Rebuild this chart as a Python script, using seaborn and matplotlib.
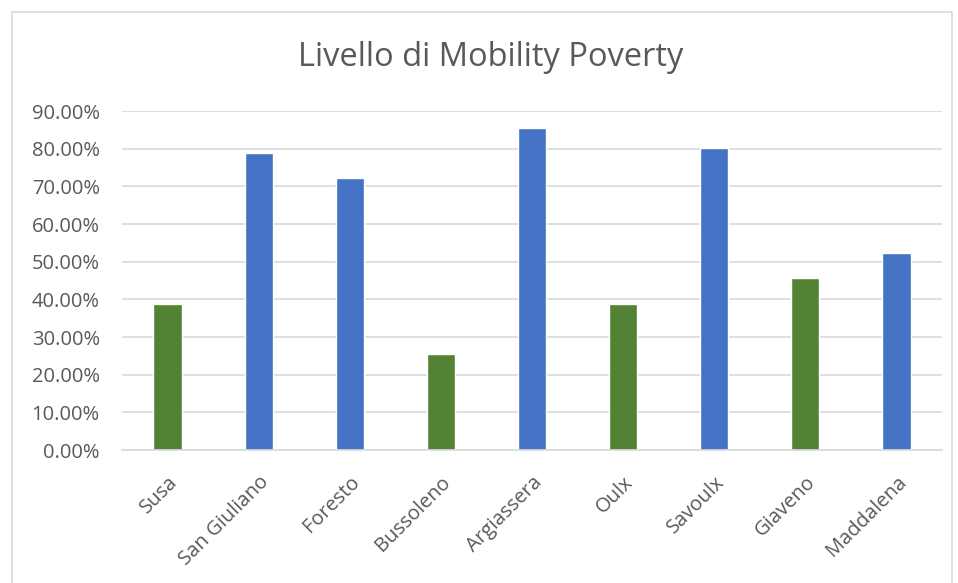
import pandas as pd
import matplotlib.pyplot as plt
import seaborn as sns
from matplotlib.patches import Rectangle
from matplotlib.ticker import PercentFormatter

# values
comuni = ["Susa", "San Giuliano", "Foresto", "Bussoleno", "Argiassera",
          "Oulx", "Savoulx", "Giaveno", "Maddalena"]
poverty = [0.388, 0.788, 0.722, 0.255, 0.855, 0.388, 0.801, 0.456, 0.524]
gruppo = ["verde", "blu", "blu", "verde", "blu", "verde", "blu", "verde", "blu"]

colori = {"verde": "#548235", "blu": "#4472C4"}
grigio = "#595959"

sns.set_style("white")
plt.rcParams['font.family'] = ['Open Sans', 'DejaVu Sans']

df = pd.DataFrame({"Comune": comuni, "Mobility Poverty": poverty, "Gruppo": gruppo})

fig = plt.figure(figsize=(9.58, 5.83), dpi=100)
ax = fig.add_axes([0.1273, 0.2281, 0.8560, 0.5815])

sns.barplot(data=df, x="Comune", y="Mobility Poverty", hue="Gruppo",
            palette=colori, dodge=False, width=0.31, legend=False, ax=ax,
            saturation=1)

ax.set_ylim(0, 0.9)
ax.set_yticks([i / 10 for i in range(10)])
ax.yaxis.set_major_formatter(PercentFormatter(1.0, decimals=2))
ax.grid(axis="y", color="#D9D9D9", linewidth=1.2)
ax.set_axisbelow(True)
for s in ["top", "right", "left"]:
    ax.spines[s].set_visible(False)
ax.spines["bottom"].set_color("#D9D9D9")
ax.spines["bottom"].set_linewidth(1.2)
ax.tick_params(length=0, colors=grigio, labelsize=14.5)
ax.tick_params(axis="y", pad=16)
ax.tick_params(axis="x", pad=16)
plt.setp(ax.get_xticklabels(), rotation=45, ha="right", rotation_mode="anchor")
ax.set_xlabel("")
ax.set_ylabel("")

fig.text(0.512, 0.902, "Livello di Mobility Poverty", ha="center", va="center",
         fontsize=23.5, color=grigio)

# chart border like the spreadsheet frame
fig.patches.append(Rectangle((12 / 958, -0.01), 940 / 958, 1 - 12 / 583 + 0.01,
                             transform=fig.transFigure, fill=False,
                             edgecolor="#D9D9D9", linewidth=1.2))

fig.savefig("out.png", dpi=100)
